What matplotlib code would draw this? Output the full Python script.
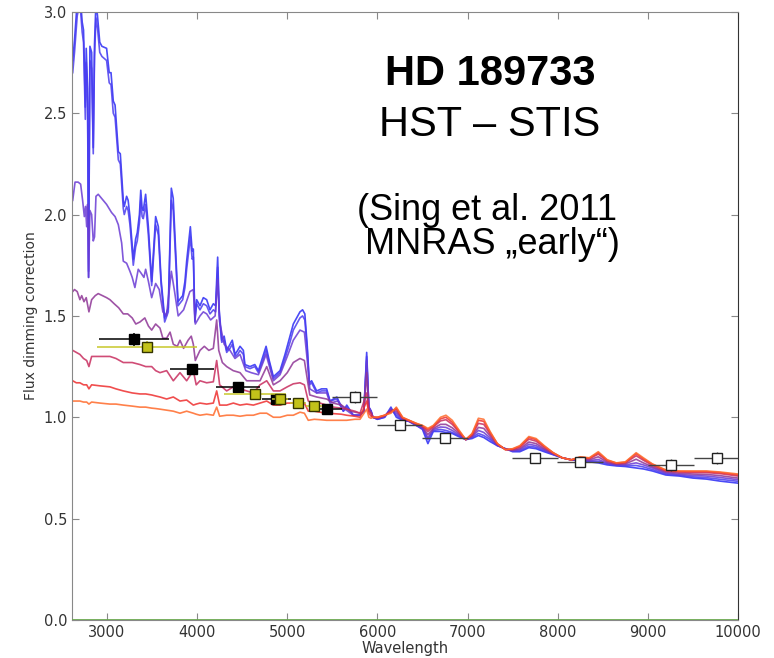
import numpy as np
import matplotlib
matplotlib.use("Agg")
import matplotlib.pyplot as plt

# model dimming curves, blue (least spotted) -> orange; UV part sampled per curve
wl_uv_blue = [2620, 2640, 2670, 2700, 2725, 2740, 2750, 2760, 2770, 2785, 2796, 2811, 2830, 2848,
              2862, 2878, 2895, 2920, 2944, 2996, 3025, 3045, 3070, 3090, 3126, 3148, 3181, 3192,
              3218, 3235, 3255, 3292, 3318, 3336, 3360, 3375, 3390, 3403, 3429, 3459, 3496, 3540,
              3570, 3600, 3640, 3680, 3714, 3735, 3788, 3840, 3865, 3884, 3925, 3945, 3958, 3975,
              3995, 4032, 4069, 4106, 4143, 4180, 4205, 4228, 4245, 4273, 4300, 4328, 4365, 4390,
              4421, 4450, 4476, 4513, 4530, 4587, 4640, 4680, 4730, 4765, 4800, 4846, 4920, 4975,
              5030, 5067, 5104, 5141, 5170, 5195, 5222, 5245, 5270, 5326, 5380, 5437, 5474, 5550,
              5622, 5660, 5733, 5807, 5850, 5881, 5905, 5930]
blue_uv = [2.76, 2.86, 3.05, 3.10, 2.95, 2.91, 2.71, 2.53, 2.82, 2.62, 1.69, 2.83, 2.80, 2.33,
           2.84, 3.05, 2.98, 2.85, 2.83, 2.82, 2.70, 2.70, 2.56, 2.54, 2.31, 2.30, 2.07, 2.04,
           2.09, 2.07, 1.99, 1.78, 1.88, 1.91, 2.00, 2.12, 2.03, 2.02, 2.10, 1.94, 1.67, 1.99,
           1.94, 1.68, 1.49, 1.54, 2.13, 2.08, 1.57, 1.60, 1.67, 1.77, 1.94, 1.82, 1.83, 1.48,
           1.58, 1.55, 1.59, 1.58, 1.53, 1.56, 1.55, 1.79, 1.53, 1.38, 1.40, 1.33, 1.36, 1.38,
           1.31, 1.33, 1.35, 1.33, 1.26, 1.25, 1.26, 1.23, 1.30, 1.35, 1.28, 1.20, 1.23, 1.31,
           1.40, 1.46, 1.49, 1.52, 1.53, 1.51, 1.35, 1.17, 1.18, 1.13, 1.14, 1.14, 1.08, 1.10,
           1.03, 1.06, 1.01, 1.01, 1.03, 1.32, 1.05, 1.03]
blue2_uv = [2.70, 2.80, 2.98, 3.05, 2.90, 2.85, 2.66, 2.47, 2.75, 2.55, 1.72, 2.76, 2.72, 2.30,
            2.78, 2.97, 2.92, 2.80, 2.78, 2.76, 2.65, 2.64, 2.50, 2.48, 2.27, 2.25, 2.03, 2.00,
            2.04, 2.02, 1.95, 1.75, 1.84, 1.87, 1.96, 2.07, 1.99, 1.98, 2.05, 1.90, 1.65, 1.95,
            1.90, 1.66, 1.47, 1.52, 2.07, 2.02, 1.55, 1.58, 1.64, 1.73, 1.89, 1.78, 1.79, 1.47,
            1.56, 1.53, 1.56, 1.55, 1.51, 1.53, 1.52, 1.74, 1.50, 1.37, 1.38, 1.32, 1.34, 1.36,
            1.30, 1.31, 1.33, 1.31, 1.25, 1.24, 1.25, 1.22, 1.28, 1.33, 1.27, 1.19, 1.22, 1.29,
            1.37, 1.43, 1.46, 1.49, 1.50, 1.48, 1.33, 1.16, 1.17, 1.12, 1.13, 1.13, 1.08, 1.09,
            1.03, 1.05, 1.01, 1.01, 1.03, 1.30, 1.05, 1.03]

wl_uv_violet = [2620, 2646, 2680, 2708, 2730, 2749, 2762, 2775, 2785, 2796, 2811, 2830, 2848, 2862,
                2878, 2903, 2940, 2996, 3051, 3090, 3126, 3163, 3181, 3218, 3255, 3280, 3310, 3347,
                3380, 3410, 3429, 3460, 3496, 3540, 3580, 3620, 3660, 3714, 3750, 3790, 3850, 3920,
                3958, 3980, 4032, 4069, 4106, 4150, 4200, 4228, 4250, 4300, 4365, 4420, 4476, 4540,
                4600, 4680, 4765, 4846, 4920, 5000, 5067, 5141, 5190, 5222, 5250, 5326, 5437, 5474,
                5560, 5640, 5733, 5807, 5850, 5881, 5905, 5930]
violet_uv = [2.07, 2.16, 2.16, 2.15, 2.07, 1.99, 2.04, 1.94, 2.05, 1.69, 2.02, 2.00, 1.87, 1.89,
             2.09, 2.10, 2.08, 2.05, 2.01, 1.99, 1.95, 1.86, 1.77, 1.76, 1.72, 1.69, 1.64, 1.73,
             1.71, 1.69, 1.73, 1.67, 1.59, 1.66, 1.63, 1.52, 1.50, 1.72, 1.62, 1.50, 1.53, 1.62,
             1.63, 1.46, 1.50, 1.52, 1.51, 1.48, 1.50, 1.68, 1.47, 1.36, 1.33, 1.29, 1.31, 1.23,
             1.22, 1.21, 1.31, 1.18, 1.21, 1.30, 1.38, 1.43, 1.42, 1.28, 1.14, 1.12, 1.12, 1.07,
             1.08, 1.04, 1.01, 1.01, 1.03, 1.28, 1.05, 1.03]

wl_uv_purple = [2620, 2640, 2670, 2700, 2720, 2745, 2770, 2800, 2830, 2870, 2903, 2950, 2996, 3033,
                3080, 3130, 3181, 3230, 3280, 3320, 3366, 3420, 3460, 3496, 3540, 3588, 3620, 3662,
                3700, 3736, 3780, 3810, 3850, 3900, 3935, 3958, 3980, 4032, 4080, 4130, 4180, 4217,
                4240, 4280, 4328, 4400, 4476, 4550, 4624, 4698, 4772, 4846, 4920, 5000, 5067, 5141,
                5190, 5225, 5250, 5326, 5437, 5511, 5600, 5700, 5807, 5850, 5881, 5905, 5930]
purple_uv = [1.62, 1.63, 1.62, 1.58, 1.60, 1.57, 1.59, 1.52, 1.58, 1.60, 1.61, 1.60, 1.59, 1.58,
             1.56, 1.54, 1.51, 1.51, 1.49, 1.46, 1.47, 1.49, 1.45, 1.43, 1.46, 1.44, 1.39, 1.39,
             1.42, 1.36, 1.35, 1.38, 1.34, 1.38, 1.40, 1.36, 1.28, 1.33, 1.35, 1.33, 1.34, 1.48,
             1.33, 1.27, 1.25, 1.23, 1.22, 1.18, 1.18, 1.18, 1.25, 1.16, 1.18, 1.22, 1.27, 1.29,
             1.28, 1.18, 1.11, 1.10, 1.09, 1.07, 1.06, 1.03, 1.02, 1.03, 1.22, 1.04, 1.02]

wl_uv_low = [2620, 2660, 2700, 2740, 2775, 2800, 2830, 2922, 3033, 3100, 3181, 3280, 3366, 3430,
             3496, 3540, 3588, 3662, 3736, 3810, 3884, 3958, 3990, 4032, 4106, 4180, 4217, 4250,
             4328, 4402, 4476, 4550, 4624, 4698, 4772, 4846, 4920, 5000, 5067, 5141, 5190, 5233,
             5300, 5363, 5437, 5511, 5600, 5659, 5750, 5807, 5881, 5905, 5930]
crimson_uv = [1.33, 1.32, 1.31, 1.29, 1.28, 1.25, 1.30, 1.30, 1.30, 1.29, 1.27, 1.27, 1.26, 1.25,
              1.25, 1.23, 1.22, 1.23, 1.18, 1.22, 1.18, 1.23, 1.16, 1.18, 1.17, 1.175, 1.28, 1.16,
              1.13, 1.15, 1.14, 1.13, 1.12, 1.16, 1.18, 1.13, 1.13, 1.15, 1.165, 1.17, 1.16, 1.08,
              1.07, 1.07, 1.06, 1.05, 1.045, 1.04, 1.03, 1.02, 1.12, 1.03, 1.02]
red_uv = [1.18, 1.17, 1.17, 1.16, 1.16, 1.14, 1.16, 1.155, 1.15, 1.14, 1.13, 1.12, 1.115, 1.115,
          1.11, 1.105, 1.10, 1.09, 1.10, 1.08, 1.085, 1.06, 1.065, 1.07, 1.065, 1.07, 1.13, 1.06,
          1.06, 1.07, 1.06, 1.065, 1.06, 1.07, 1.08, 1.06, 1.06, 1.07, 1.07, 1.075, 1.07, 1.03,
          1.03, 1.025, 1.02, 1.018, 1.015, 1.01, 1.005, 1.00, 1.08, 1.02, 1.005]
orange_uv = [1.08, 1.08, 1.08, 1.075, 1.075, 1.065, 1.075, 1.07, 1.065, 1.065, 1.06, 1.055, 1.05, 1.05,
             1.045, 1.043, 1.04, 1.035, 1.03, 1.02, 1.03, 1.02, 1.015, 1.01, 1.015, 1.01, 1.05, 1.005,
             1.01, 1.01, 1.005, 1.01, 1.01, 1.02, 1.02, 1.00, 1.00, 1.01, 1.01, 1.025, 1.02, 0.985,
             0.99, 0.988, 0.985, 0.985, 0.985, 0.985, 0.99, 0.99, 1.04, 1.00, 0.995]

# red/near-IR part, common sampling for all curves
wl_ir = [5950, 6000, 6080, 6150, 6210, 6280, 6350, 6430, 6500, 6560, 6620, 6700, 6760, 6830, 6900,
         6980, 7050, 7120, 7180, 7250, 7330, 7420, 7500, 7580, 7680, 7760, 7850, 7950, 8050, 8150,
         8250, 8350, 8450, 8550, 8650, 8750, 8870, 8950, 9050, 9200, 9350, 9500, 9650, 9800, 10000]
blue_ir = [1.00, 0.99, 1.00, 1.05, 1.00, 0.985, 0.98, 0.96, 0.94, 0.87, 0.93, 0.93, 0.925, 0.92, 0.905,
           0.89, 0.895, 0.91, 0.90, 0.88, 0.86, 0.845, 0.83, 0.83, 0.85, 0.845, 0.83, 0.815, 0.80, 0.79,
           0.785, 0.78, 0.775, 0.765, 0.76, 0.757, 0.75, 0.745, 0.735, 0.715, 0.71, 0.70, 0.695, 0.685, 0.675]
blue2_ir = [1.00, 0.99, 1.00, 1.04, 1.01, 0.985, 0.98, 0.96, 0.945, 0.89, 0.935, 0.94, 0.935, 0.925, 0.91,
            0.89, 0.90, 0.92, 0.91, 0.89, 0.86, 0.845, 0.833, 0.835, 0.857, 0.852, 0.835, 0.817, 0.80, 0.79,
            0.788, 0.783, 0.783, 0.77, 0.763, 0.761, 0.762, 0.755, 0.742, 0.72, 0.714, 0.706, 0.702, 0.694, 0.684]
violet_ir = [1.00, 0.995, 1.005, 1.04, 1.02, 0.99, 0.98, 0.962, 0.948, 0.90, 0.94, 0.952, 0.95, 0.935, 0.915,
             0.89, 0.903, 0.935, 0.925, 0.898, 0.862, 0.843, 0.835, 0.84, 0.867, 0.86, 0.84, 0.818, 0.80, 0.79,
             0.79, 0.786, 0.792, 0.773, 0.765, 0.765, 0.775, 0.765, 0.75, 0.725, 0.718, 0.713, 0.71, 0.703, 0.692]
purple_ir = [1.00, 0.995, 1.005, 1.035, 1.03, 0.992, 0.982, 0.965, 0.952, 0.915, 0.945, 0.965, 0.965, 0.948, 0.922,
             0.89, 0.907, 0.95, 0.945, 0.908, 0.865, 0.842, 0.838, 0.845, 0.878, 0.87, 0.845, 0.82, 0.80, 0.79,
             0.795, 0.79, 0.805, 0.778, 0.768, 0.77, 0.793, 0.775, 0.756, 0.73, 0.724, 0.72, 0.718, 0.712, 0.70]
crimson_ir = [1.00, 0.998, 1.008, 1.03, 1.04, 0.995, 0.984, 0.967, 0.956, 0.93, 0.952, 0.982, 0.988, 0.965, 0.93,
              0.89, 0.912, 0.97, 0.965, 0.918, 0.868, 0.841, 0.841, 0.852, 0.892, 0.882, 0.852, 0.823, 0.80, 0.79,
              0.80, 0.795, 0.818, 0.784, 0.772, 0.775, 0.81, 0.788, 0.763, 0.735, 0.73, 0.728, 0.727, 0.722, 0.71]
red_ir = [1.00, 1.00, 1.01, 1.025, 1.045, 0.998, 0.985, 0.97, 0.958, 0.94, 0.956, 0.992, 1.00, 0.975, 0.935,
          0.89, 0.917, 0.985, 0.98, 0.925, 0.87, 0.84, 0.843, 0.857, 0.90, 0.89, 0.857, 0.825, 0.80, 0.79,
          0.803, 0.798, 0.825, 0.788, 0.774, 0.778, 0.82, 0.795, 0.768, 0.738, 0.733, 0.732, 0.732, 0.727, 0.716]
orange_ir = [1.00, 1.00, 1.01, 1.02, 1.05, 1.00, 0.985, 0.97, 0.96, 0.945, 0.96, 1.00, 1.01, 0.985, 0.94,
             0.89, 0.92, 0.995, 0.99, 0.93, 0.87, 0.84, 0.845, 0.86, 0.905, 0.895, 0.86, 0.825, 0.80, 0.79,
             0.805, 0.80, 0.83, 0.79, 0.775, 0.78, 0.825, 0.80, 0.77, 0.74, 0.735, 0.735, 0.735, 0.73, 0.72]

# measured transit depths (black: filled, yellow: second set, white: long-wave set)
black_wl = [3300, 3943, 4453, 4880, 5441]
black_val = [1.384, 1.236, 1.148, 1.092, 1.039]
black_xerr = [390, 245, 245, 160, 170]
black_yerr = [0.03, 0.02, 0.02, 0.02, 0.02]

yellow_wl = [3444, 4642, 4919, 5119, 5296]
yellow_val = [1.345, 1.113, 1.089, 1.069, 1.054]
yellow_xerr = [550, 340, 90, 90, 90]
yellow_yerr = [0.03, 0.015, 0.015, 0.015, 0.015]

white_wl = [5751, 6250, 6750, 7748, 8247, 9257, 9767]
white_val = [1.099, 0.960, 0.900, 0.800, 0.778, 0.765, 0.800]
white_xerr = [250, 250, 250, 250, 250, 250, 250]
white_yerr = [0.03, 0.02, 0.02, 0.02, 0.02, 0.03, 0.03]

curves = [
    (wl_uv_blue, blue_uv, blue_ir, '#2b2bf5'),
    (wl_uv_blue, blue2_uv, blue2_ir, '#4a3cef'),
    (wl_uv_violet, violet_uv, violet_ir, '#6a3bd4'),
    (wl_uv_purple, purple_uv, purple_ir, '#8e3596'),
    (wl_uv_low, crimson_uv, crimson_ir, '#c82d5e'),
    (wl_uv_low, red_uv, red_ir, '#ee2f2f'),
    (wl_uv_low, orange_uv, orange_ir, '#ff6a2a'),
]

fig = plt.figure(figsize=(7.74, 6.58), dpi=100)
ax = fig.add_axes([0.093, 0.0578, 0.8605, 0.9242])

for wl_uv, f_uv, f_ir, col in curves:
    wl = np.concatenate([wl_uv, wl_ir])
    fl = np.concatenate([f_uv, f_ir])
    ax.plot(wl, fl, color=col, lw=1.2, alpha=0.85, zorder=2)

ax.axhline(0.0, color='#6aa84f', lw=2, zorder=3)

ax.errorbar(black_wl, black_val, xerr=black_xerr, yerr=black_yerr, fmt='s', ms=6.5,
            mfc='black', mec='black', ecolor='black', elinewidth=1.1, capsize=0, zorder=4)
ax.errorbar(yellow_wl, yellow_val, xerr=yellow_xerr, yerr=yellow_yerr, fmt='s', ms=6.5,
            mfc='#c2c21a', mec='#333300', ecolor='#c8c82a', elinewidth=1.1, capsize=0, zorder=5)
ax.errorbar(white_wl, white_val, xerr=white_xerr, yerr=white_yerr, fmt='s', ms=6.5,
            mfc='white', mec='#222222', ecolor='#444444', elinewidth=1.0, capsize=0, zorder=5)

ax.set_xlim(2612, 10000)
ax.set_ylim(0.0, 3.0)
ax.set_xticks([3000, 4000, 5000, 6000, 7000, 8000, 9000, 10000])
ax.set_yticks([0.0, 0.5, 1.0, 1.5, 2.0, 2.5, 3.0])
ax.tick_params(direction='in', top=True, right=True, length=5, color='#888888',
               labelsize=10.5, labelcolor='#333333')
for s in ax.spines.values():
    s.set_color('#888888')
ax.spines['right'].set_color('#333333')
ax.set_xlabel('Wavelength', fontsize=10.5, color='#333333', labelpad=1)
ax.set_ylabel('Flux dimming correction', fontsize=10, color='#333333')

fig.text(0.633, 1 - 85 / 658, 'HD 189733', ha='center', va='baseline',
         fontsize=30, fontweight='bold', family='Liberation Sans')
fig.text(0.633, 1 - 136 / 658, 'HST \u2013 STIS', ha='center', va='baseline',
         fontsize=30, family='Liberation Sans')
fig.text(357 / 774, 1 - 220 / 658, '(Sing et al. 2011', ha='left', va='baseline',
         fontsize=26, family='Liberation Sans')
fig.text(365 / 774, 1 - 254 / 658, 'MNRAS \u201eearly\u201c)', ha='left', va='baseline',
         fontsize=26, family='Liberation Sans')

fig.savefig('out.png', dpi=100, facecolor='white')
